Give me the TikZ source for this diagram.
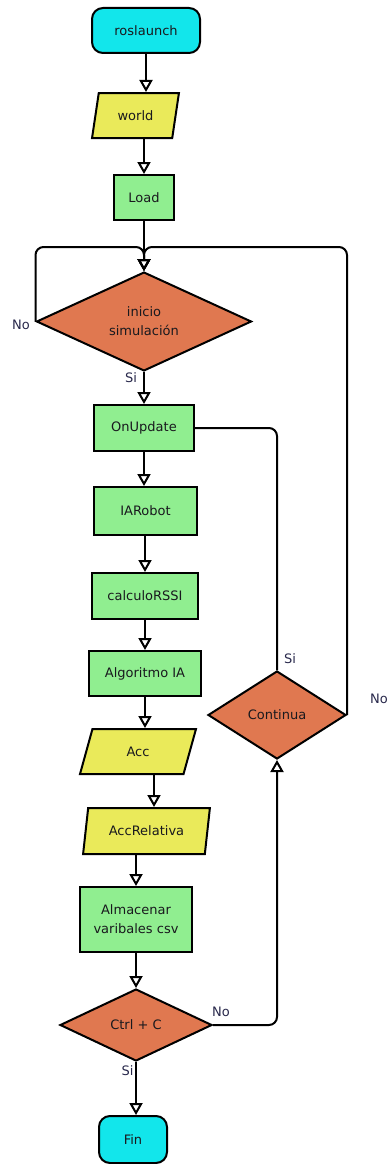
\documentclass[tikz,border=0pt]{standalone}
\usepackage{fontspec}
\setmainfont{DejaVu Sans}
\usetikzlibrary{shapes.geometric,arrows.meta}
\definecolor{termc}{RGB}{18,230,235}
\definecolor{ioc}{RGB}{234,234,90}
\definecolor{procc}{RGB}{144,238,144}
\definecolor{decc}{RGB}{224,120,80}
\definecolor{txtc}{RGB}{25,25,30}
\definecolor{lblc}{RGB}{40,40,75}
\begin{document}
\begin{tikzpicture}[x=1pt,y=-1pt,
 base/.style={draw=black, line width=2pt, text=txtc, font=\fontsize{13pt}{19pt}\selectfont, inner sep=0pt, align=center},
 term/.style={base, rectangle, rounded corners=11pt, fill=termc},
 io/.style={base, trapezium, trapezium left angle=72, trapezium right angle=108, trapezium stretches=true, fill=ioc},
 proc/.style={base, rectangle, fill=procc},
 dec/.style={base, diamond, fill=decc},
 flow/.style={line width=2pt, draw=black, -{Triangle[open, length=12pt, width=13pt]}},
 conn/.style={line width=2pt, draw=black, rounded corners=8pt},
 lbl/.style={text=lblc, font=\fontsize{13pt}{19pt}\selectfont, inner sep=0pt}
]
\path[use as bounding box, clip] (0,0) rectangle (389,1164);

\node[term, minimum width=108, minimum height=45] (ros) at (146,30.5) {roslaunch};
\node[io, minimum width=87, minimum height=45] (world) at (135.5,115.5) {world};
\node[proc, minimum width=60, minimum height=45] (load) at (144,197.5) {Load};
\node[dec, minimum width=215, minimum height=97] (ini) at (144,321.5) {inicio\\simulación};
\node[proc, minimum width=100, minimum height=46] (onup) at (144,428) {OnUpdate};
\node[proc, minimum width=103, minimum height=48] (iar) at (145.5,511) {IARobot};
\node[proc, minimum width=106, minimum height=46] (rssi) at (145,596) {calculoRSSI};
\node[proc, minimum width=112, minimum height=45] (alg) at (145,673.5) {Algoritmo IA};
\node[io, minimum width=116, minimum height=45] (acc) at (138,751.5) {Acc};
\node[io, minimum width=127, minimum height=46] (accr) at (146.5,831) {AccRelativa};
\node[proc, minimum width=112, minimum height=65] (alm) at (136,919.5) {Almacenar\\varibales csv};
\node[dec, minimum width=152, minimum height=72] (ctrl) at (136,1025) {Ctrl + C};
\node[term, minimum width=68, minimum height=47] (fin) at (133,1139.5) {Fin};
\node[dec, minimum width=138, minimum height=88] (cont) at (277,715) {Continua};

\coordinate (m) at (144,247);
\coordinate (x154) at (154,0);
\coordinate (x136) at (136,0);
\coordinate (x145) at (145,0);

\draw[flow] (ros.south) -- (ros.south |- world.north);
\draw[flow] (load.north |- world.south) -- (load.north);
\draw[flow] (load.south) -- (ini.north);
\draw[flow, rounded corners=8pt] (ini.west) -- (ini.west |- m) -- (m) -- (ini.north);
\draw[flow, rounded corners=8pt] (cont.east) -- (cont.east |- m) -- (m) -- (ini.north);
\draw[flow] (ini.south) -- (ini.south |- onup.north);
\draw[flow] (onup.south) -- (onup.south |- iar.north);
\draw[flow] (x145 |- iar.south) -- (x145 |- rssi.north);
\draw[flow] (x145 |- rssi.south) -- (x145 |- alg.north);
\draw[flow] (x145 |- alg.south) -- (x145 |- acc.north);
\draw[flow] (x154 |- acc.south) -- (x154 |- accr.north);
\draw[flow] (x136 |- accr.south) -- (x136 |- alm.north);
\draw[flow] (alm.south) -- (alm.south |- ctrl.north);
\draw[flow] (ctrl.south) -- (ctrl.south |- fin.north);
\draw[flow, rounded corners=8pt] (ctrl.east) -- (cont.south |- ctrl.east) -- (cont.south);
\draw[conn] (cont.north) -- (cont.north |- onup.east) -- (onup.east);

\node[lbl] (l1) at (21,325) {No};
\node[lbl] (l2) at (131,378) {Si};
\node[lbl] (l3) at (290,659) {Si};
\node[lbl, anchor=east] (l4) at (388,699) {No};
\node[lbl] (l5) at (221,1012) {No};
\node[lbl] (l6) at (127.5,1071) {Si};
\end{tikzpicture}
\end{document}
